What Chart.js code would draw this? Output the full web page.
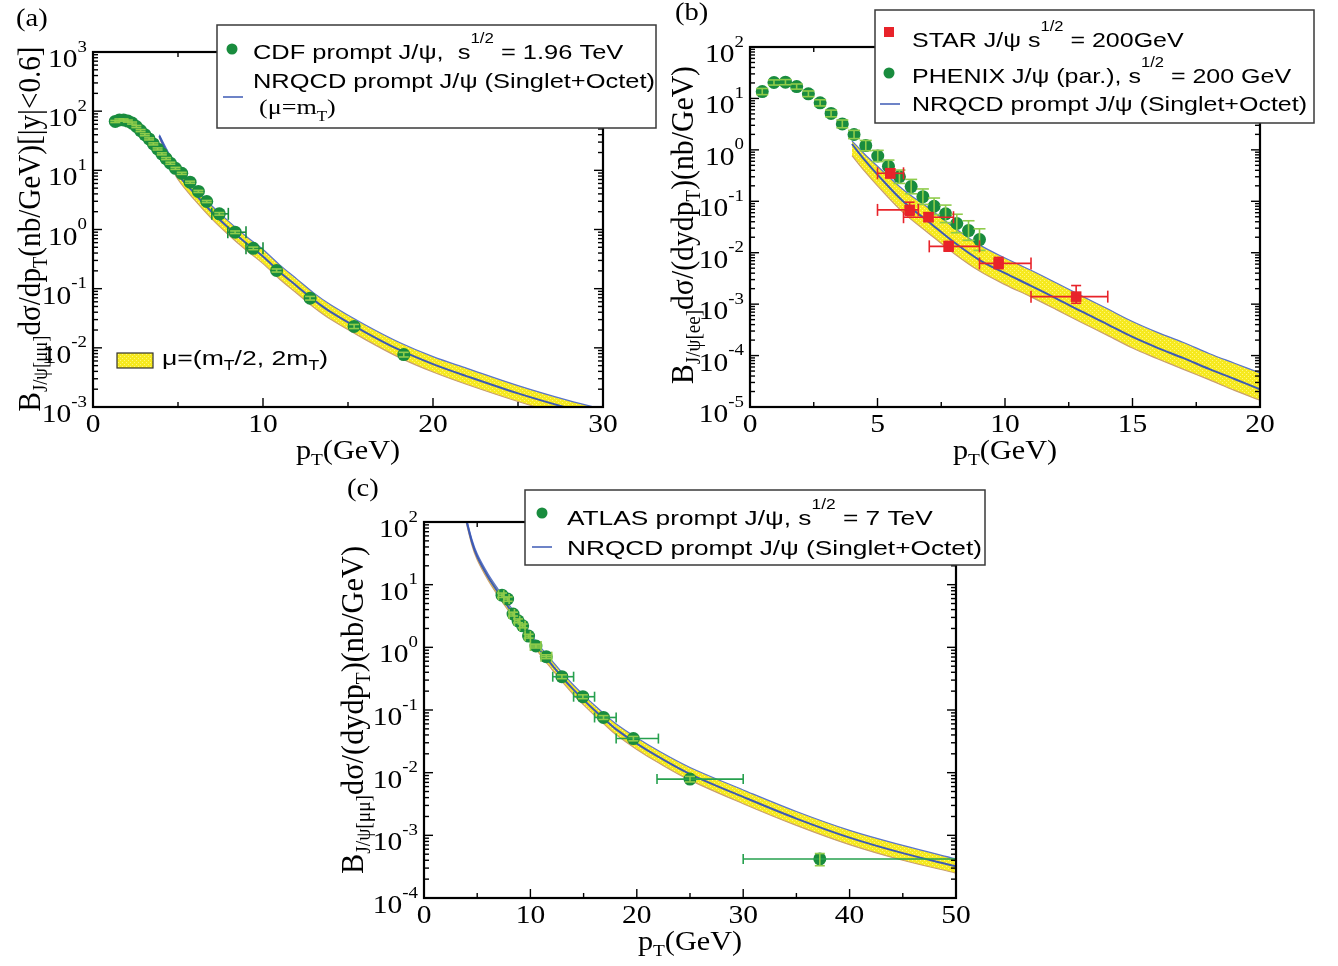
<!DOCTYPE html>
<html>
<head>
<meta charset="utf-8">
<script src="https://cdn.jsdelivr.net/npm/chart.js@4.4.0/dist/chart.umd.min.js"></script>
<style>
  body { margin: 0; background: #fff; width: 1338px; height: 966px; position: relative; overflow: hidden; }
  canvas { position: absolute; }
</style>
</head>
<body>
<canvas id="chartA" width="660" height="470" style="left:0px;top:0px"></canvas>
<canvas id="chartB" width="678" height="470" style="left:660px;top:0px"></canvas>
<canvas id="chartC" width="680" height="496" style="left:330px;top:470px"></canvas>
<script>
// ---------- (a) CDF prompt J/psi, 1.96 TeV ----------
const cdfPt  = [1.31, 1.55, 1.80, 2.05, 2.30, 2.55, 2.80, 3.05, 3.30, 3.55, 3.80, 4.05, 4.30, 4.55, 4.85,
                5.22, 5.71, 6.20, 6.69, 7.43, 8.36, 9.43, 10.8, 12.77, 15.36, 18.28];
const cdfVal = [67, 71, 71, 68, 63, 55, 47, 40, 34, 28, 23, 19, 15.8, 13.2, 10.8,
                8.9, 6.3, 4.4, 2.97, 1.84, 0.90, 0.48, 0.203, 0.069, 0.023, 0.0077];
const cdfErr = [0.04, 0.04, 0.04, 0.04, 0.04, 0.04, 0.04, 0.04, 0.04, 0.04, 0.04, 0.04, 0.04, 0.04, 0.04,
                0.04, 0.04, 0.04, 0.04, 0.05, 0.05, 0.05, 0.06, 0.07, 0.08, 0.09];
const cdfXLo = [null, null, null, null, null, null, null, null, null, null, null, null, null, null, null,
                null, null, null, null, 6.99, 7.93, 9.0, null, null, null, null];
const cdfXHi = [null, null, null, null, null, null, null, null, null, null, null, null, null, null, null,
                null, null, null, null, 7.96, 9.0, 10.0, null, null, null, null];

// NRQCD band for (a): upper edge, central (mu = mT), lower edge
const aThPt   = [3.9, 4.5, 5, 6, 7, 8, 9, 10, 11, 12, 13, 14, 16, 18, 20, 22, 25, 28, 30];
const aThHigh = [40, 18.5, 10.3, 5.0, 2.5, 1.36, 0.77, 0.46, 0.25, 0.145, 0.084, 0.053, 0.0245, 0.0124, 0.0071, 0.0045, 0.0023, 0.00128, 0.00092];
const aThMid  = [38, 16, 8.5, 4.0, 1.96, 1.05, 0.59, 0.35, 0.19, 0.11, 0.064, 0.040, 0.0185, 0.0093, 0.0053, 0.0033, 0.0017, 0.00095, 0.00068];
const aThLow  = [36, 13.8, 7.0, 3.1, 1.5, 0.80, 0.45, 0.265, 0.143, 0.083, 0.048, 0.030, 0.0139, 0.0069, 0.0039, 0.0024, 0.00124, 0.00069, 0.00049];

// ---------- (b) RHIC 200 GeV ----------
const phePt  = [0.48, 0.94, 1.39, 1.83, 2.29, 2.75, 3.18, 3.62, 4.08, 4.54, 5.01, 5.43, 5.86, 6.32, 6.78, 7.22, 7.67, 8.11, 8.57, 9.0];
const pheVal = [13.6, 20.4, 20.7, 17, 12.3, 8.2, 5.1, 3.2, 1.99, 1.21, 0.76, 0.48, 0.30, 0.193, 0.123, 0.080, 0.057, 0.037, 0.027, 0.018];
const pheErrDec = [0.06, 0.05, 0.05, 0.05, 0.055, 0.06, 0.065, 0.075, 0.08, 0.10, 0.11, 0.12, 0.13, 0.14, 0.15, 0.16, 0.17, 0.18, 0.19, 0.21];

const starPt  = [5.50, 6.26, 7.00, 7.79, 9.75, 12.79];
const starVal = [0.35, 0.068, 0.049, 0.0133, 0.0062, 0.0014];
const starXLo = [5.0, 5.0, 6.02, 7.03, 9.0, 11.02];
const starXHi = [6.02, 6.6, 7.98, 9.0, 11.02, 14.03];
const starYLo = [0.285, 0.053, 0.041, 0.0107, 0.0049, 0.00104];
const starYHi = [0.43, 0.096, 0.060, 0.0166, 0.0081, 0.0023];

const bThPt   = [4, 4.5, 5, 6, 7, 8, 9, 10, 11, 12, 13, 14, 15, 16, 17, 18, 19, 20];
const bThHigh = [1.5, 0.82, 0.48, 0.17, 0.074, 0.031, 0.0142, 0.0079, 0.0046, 0.0026, 1.45e-3, 8.2e-4, 4.6e-4, 2.8e-4, 1.8e-4, 1.1e-4, 7.1e-5, 4.6e-5];
const bThMid  = [1.3, 0.63, 0.33, 0.10, 0.040, 0.016, 0.0072, 0.0040, 0.0023, 0.0013, 7.2e-4, 4.1e-4, 2.3e-4, 1.4e-4, 8.9e-5, 5.5e-5, 3.5e-5, 2.2e-5];
const bThLow  = [0.77, 0.38, 0.20, 0.061, 0.024, 0.0097, 0.0044, 0.0024, 0.0014, 7.9e-4, 4.4e-4, 2.5e-4, 1.4e-4, 8.6e-5, 5.4e-5, 3.4e-5, 2.1e-5, 1.35e-5];

// ---------- (c) ATLAS 7 TeV ----------
const atlasPt  = [7.33, 7.86, 8.37, 8.84, 9.27, 9.83, 10.52, 11.49, 12.96, 14.93, 16.87, 19.68, 25.0, 37.2];
const atlasVal = [6.8, 5.9, 3.4, 2.65, 2.2, 1.51, 1.05, 0.71, 0.34, 0.163, 0.076, 0.035, 0.0079, 0.00042];
const atlasXLo = [7.0, 7.5, 8.0, 8.5, 9.0, 9.5, 10.0, 11.0, 12.1, 14.06, 16.03, 18.06, 21.9, 30.0];
const atlasXHi = [7.5, 8.0, 8.5, 9.0, 9.5, 10.0, 11.0, 12.0, 14.06, 16.03, 18.06, 22.03, 30.0, 70.0];
const atlasErr = [0.08, 0.08, 0.07, 0.07, 0.07, 0.07, 0.07, 0.07, 0.07, 0.07, 0.07, 0.08, 0.10, 0.22];

const cThPt   = [3.9, 4.5, 5, 6, 7, 8, 9, 10, 11, 12, 13, 14, 15, 16, 17, 18, 20, 22, 25, 30, 35, 40, 45, 50];
const cThHigh = [130, 53, 31, 15, 8.3, 4.75, 2.8, 1.66, 0.98, 0.62, 0.39, 0.255, 0.173, 0.12, 0.085, 0.061, 0.036, 0.0225, 0.0121, 0.0053, 0.0024, 1.2e-3, 6.9e-4, 4.2e-4];
const cThMid  = [120, 48, 28, 13.5, 7.4, 4.2, 2.45, 1.45, 0.85, 0.53, 0.33, 0.215, 0.145, 0.10, 0.07, 0.05, 0.029, 0.018, 0.0095, 0.0041, 0.00185, 9.2e-4, 5.2e-4, 3.2e-4];
const cThLow  = [110, 43, 25, 12, 6.5, 3.7, 2.12, 1.25, 0.73, 0.45, 0.28, 0.18, 0.121, 0.083, 0.058, 0.041, 0.0235, 0.0145, 0.0076, 0.0032, 0.00144, 7.1e-4, 4.0e-4, 2.5e-4];

// axis ticks
const aXTicks = [0, 10, 20, 30],        aXMinor = [5, 15, 25],            aYExp = [-3, -2, -1, 0, 1, 2, 3];
const bXTicks = [0, 5, 10, 15, 20],     bXMinor = [2.5, 7.5, 12.5, 17.5], bYExp = [-5, -4, -3, -2, -1, 0, 1, 2];
const cXTicks = [0, 10, 20, 30, 40, 50], cXMinor = [5, 15, 25, 35, 45],   cYExp = [-4, -3, -2, -1, 0, 1, 2];

const GREEN = '#198c3e';
const LIGHT = '#8fcc4b';
const MIDGREEN = '#26a04e';
const RED = '#e8232a';
const BLUE = '#3d5ab5';
const EDGE_BLUE = '#5a74cc';
const TAN = '#c99f70';
const SERIF = '"Liberation Serif", "Times New Roman", Times, serif';
const SANS = '"Liberation Sans", Arial, Helvetica, sans-serif';

// ---- rich text: plain strings, ['sup', s], ['sub', s] ----
function runs(segs) {
  return segs.map(s => typeof s === 'string' ? { k: 'n', t: s } : { k: s[0], t: s[1] });
}
function fontFor(k, st) {
  const sz = k === 'n' ? st.size : st.size * (st.small || 0.65);
  return sz.toFixed(1) + 'px ' + st.family;
}
function richWidth(ctx, segs, st) {
  let w = 0;
  for (const r of runs(segs)) { ctx.font = fontFor(r.k, st); w += ctx.measureText(r.t).width; }
  return w;
}
function drawRich(ctx, segs, x, y, st) {
  const w = richWidth(ctx, segs, st);
  const sx = st.width ? st.width / w : (st.sx || 1);
  ctx.save();
  ctx.translate(x, y);
  if (st.rotate) ctx.rotate(-Math.PI / 2);
  ctx.scale(sx, st.sy || 1);
  let cx = st.align === 'right' ? -w : st.align === 'center' ? -w / 2 : 0;
  ctx.textAlign = 'left';
  ctx.textBaseline = 'alphabetic';
  ctx.fillStyle = st.color || '#000';
  for (const r of runs(segs)) {
    ctx.font = fontFor(r.k, st);
    const dy = r.k === 'sup' ? -st.size * (st.raise || 0.6) : r.k === 'sub' ? st.size * (st.drop || 0.25) : 0;
    ctx.fillText(r.t, cx, dy);
    cx += ctx.measureText(r.t).width;
  }
  ctx.restore();
  return sx;
}

// yellow stippled band
function bandPattern() {
  const c = document.createElement('canvas');
  c.width = 4; c.height = 4;
  const g = c.getContext('2d');
  g.fillStyle = '#f6e91f'; g.fillRect(0, 0, 4, 4);
  g.fillStyle = '#fff77a'; g.fillRect(0, 0, 1, 1); g.fillRect(2, 2, 1, 1);
  return g.createPattern(c, 'repeat');
}
const BAND = bandPattern();

const TICK = { size: 25, family: SERIF, sx: 1.18, small: 0.64, raise: 0.62 };
const TITLE = { size: 27, family: SERIF, small: 0.64, drop: 0.22 };

// per-canvas decorations: frame ticks, labels, legend
const decor = {
  chartA: {
    xMajor: aXTicks, xMinor: aXMinor, yExp: aYExp,
    tag: ['(a)', 16, 26],
    xTitle: 52,
    yTitle: { segs: ['B', ['sub', 'J/ψ[μμ]'], 'dσ/dp', ['sub', 'T'], '(nb/GeV)[|y|<0.6]'], x: 40, y: 229, len: 365 },
    legend: {
      box: [217, 25, 656, 128], fitRow: 1, fitWidth: 402,
      rows: [
        { mark: 'circle', at: [232, 49], pos: [253, 59], text: ['CDF prompt J/ψ,  s', ['sup', '1/2'], ' = 1.96 TeV'] },
        { pos: [253, 88], text: ['NRQCD prompt J/ψ (Singlet+Octet)'] },
        { mark: 'line', at: [223, 97], pos: [259, 114], serif: true, text: ['(μ=m', ['sub', 'T'], ')'] }
      ]
    },
    bandKey: { box: [117, 353, 36, 15], pos: [162, 365], width: 166, text: ['μ=(m', ['sub', 'T'], '/2, 2m', ['sub', 'T'], ')'] }
  },
  chartB: {
    xMajor: bXTicks, xMinor: bXMinor, yExp: bYExp,
    tag: ['(b)', 15, 20],
    xTitle: 52,
    yTitle: { segs: ['B', ['sub', 'J/ψ[ee]'], 'dσ/(dydp', ['sub', 'T'], ')(nb/GeV)'], x: 33, y: 225, len: 318 },
    legend: {
      box: [215, 10, 654, 123], fitRow: 2, fitWidth: 395,
      rows: [
        { mark: 'rect', at: [229, 32], pos: [252, 47], text: ['STAR J/ψ s', ['sup', '1/2'], ' = 200GeV'] },
        { mark: 'circle', at: [229, 73], pos: [252, 83], text: ['PHENIX J/ψ (par.), s', ['sup', '1/2'], ' = 200 GeV'] },
        { mark: 'line', at: [220, 104], pos: [252, 111], text: ['NRQCD prompt J/ψ (Singlet+Octet)'] }
      ]
    }
  },
  chartC: {
    xMajor: cXTicks, xMinor: cXMinor, yExp: cYExp,
    tag: ['(c)', 17, 26],
    xTitle: 52,
    yTitle: { segs: ['B', ['sub', 'J/ψ[μμ]'], 'dσ/(dydp', ['sub', 'T'], ')(nb/GeV)'], x: 33, y: 240, len: 328 },
    legend: {
      box: [195, 20, 655, 95], fitRow: 1, fitWidth: 415,
      rows: [
        { mark: 'circle', at: [212, 43], pos: [237, 55], text: ['ATLAS prompt J/ψ, s', ['sup', '1/2'], ' = 7 TeV'] },
        { mark: 'line', at: [202, 77], pos: [237, 85], text: ['NRQCD prompt J/ψ (Singlet+Octet)'] }
      ]
    }
  }
};

const errorBars = {
  id: 'errorBars',
  afterDatasetDraw(chart, args) {
    const ds = chart.data.datasets[args.index];
    const eb = ds.errorBars;
    if (!eb) return;
    const ctx = chart.ctx, xs = chart.scales.x, ys = chart.scales.y, a = chart.chartArea;
    ctx.save();
    ctx.beginPath();
    ctx.rect(a.left, a.top, a.right - a.left, a.bottom - a.top);
    ctx.clip();
    ctx.lineWidth = 1.6;
    const seg = (x1, y1, x2, y2) => { ctx.beginPath(); ctx.moveTo(x1, y1); ctx.lineTo(x2, y2); ctx.stroke(); };
    ds.data.forEach((p, i) => {
      const px = xs.getPixelForValue(p.x), py = ys.getPixelForValue(p.y);
      if (eb.xLo && eb.xLo[i] != null) {
        ctx.strokeStyle = Array.isArray(eb.xColor) ? eb.xColor[i] : eb.xColor;
        const l = xs.getPixelForValue(eb.xLo[i]), r = xs.getPixelForValue(eb.xHi[i]);
        seg(l, py, r, py);
        seg(l, py - eb.xCap, l, py + eb.xCap);
        seg(r, py - eb.xCap, r, py + eb.xCap);
      }
      if (eb.yLo && eb.yLo[i] != null) {
        ctx.strokeStyle = eb.yColor;
        const t = ys.getPixelForValue(eb.yHi[i]), b = ys.getPixelForValue(eb.yLo[i]);
        seg(px, t, px, b);
        seg(px - eb.yCap, t, px + eb.yCap, t);
        seg(px - eb.yCap, b, px + eb.yCap, b);
      }
    });
    ctx.restore();
  }
};

const frame = {
  id: 'frame',
  afterDraw(chart) {
    const d = decor[chart.canvas.id];
    const ctx = chart.ctx, a = chart.chartArea, xs = chart.scales.x, ys = chart.scales.y;
    const seg = (x1, y1, x2, y2) => { ctx.beginPath(); ctx.moveTo(x1, y1); ctx.lineTo(x2, y2); ctx.stroke(); };
    ctx.save();
    ctx.strokeStyle = '#000';
    ctx.lineWidth = 1.4;
    d.xMajor.forEach(v => { const p = xs.getPixelForValue(v); seg(p, a.bottom, p, a.bottom - 9); seg(p, a.top, p, a.top + 9); });
    d.xMinor.forEach(v => { const p = xs.getPixelForValue(v); seg(p, a.bottom, p, a.bottom - 5); seg(p, a.top, p, a.top + 5); });
    const top = d.yExp[d.yExp.length - 1];
    d.yExp.forEach(e => {
      const p = ys.getPixelForValue(Math.pow(10, e));
      seg(a.left, p, a.left + 9, p); seg(a.right, p, a.right - 9, p);
      if (e === top) return;
      for (let k = 2; k <= 9; k++) {
        const q = ys.getPixelForValue(k * Math.pow(10, e));
        seg(a.left, q, a.left + 5, q); seg(a.right, q, a.right - 5, q);
      }
    });
    ctx.lineWidth = 2.2;
    ctx.strokeRect(a.left, a.top, a.right - a.left, a.bottom - a.top);

    // tick labels
    d.xMajor.forEach(v => drawRich(ctx, [String(v)], xs.getPixelForValue(v), a.bottom + 25, { ...TICK, align: 'center' }));
    d.yExp.forEach(e => drawRich(ctx, ['10', ['sup', String(e)]], a.left - 6, ys.getPixelForValue(Math.pow(10, e)) + 15, { ...TICK, align: 'right' }));

    // axis titles
    drawRich(ctx, ['p', ['sub', 'T'], '(GeV)'], (a.left + a.right) / 2, a.bottom + d.xTitle, { ...TITLE, sx: 1.12, align: 'center' });
    const yt = d.yTitle;
    drawRich(ctx, yt.segs, yt.x, yt.y, { ...TITLE, rotate: true, align: 'center', width: yt.len, sy: 1.2 });

    // panel tag
    drawRich(ctx, [d.tag[0]], d.tag[1], d.tag[2], { size: 26, family: SERIF, sx: 1.1 });

    // legend
    const L = d.legend;
    const [bx1, by1, bx2, by2] = L.box;
    ctx.fillStyle = '#fff';
    ctx.fillRect(bx1, by1, bx2 - bx1, by2 - by1);
    ctx.strokeStyle = '#3a3a3a';
    ctx.lineWidth = 1.5;
    ctx.strokeRect(bx1, by1, bx2 - bx1, by2 - by1);
    const LEG = { size: 21, family: SANS, small: 0.66, raise: 0.78, drop: 0.25 };
    const legSx = L.fitWidth / richWidth(ctx, L.rows[L.fitRow].text, LEG);
    L.rows.forEach(r => {
      if (r.mark === 'circle') {
        ctx.fillStyle = GREEN;
        ctx.beginPath(); ctx.arc(r.at[0], r.at[1], 5.5, 0, Math.PI * 2); ctx.fill();
      } else if (r.mark === 'rect') {
        ctx.fillStyle = RED;
        ctx.fillRect(r.at[0] - 5, r.at[1] - 5, 10, 10);
      } else if (r.mark === 'line') {
        ctx.strokeStyle = BLUE; ctx.lineWidth = 1.5;
        seg(r.at[0], r.at[1], r.at[0] + 20, r.at[1]);
      }
      const st = r.serif ? { size: 22, family: SERIF, small: 0.65, drop: 0.3, sx: legSx * 0.98 } : { ...LEG, sx: legSx };
      drawRich(ctx, r.text, r.pos[0], r.pos[1], st);
    });

    if (d.bandKey) {
      const k = d.bandKey;
      ctx.fillStyle = BAND;
      ctx.fillRect(k.box[0], k.box[1], k.box[2], k.box[3]);
      ctx.strokeStyle = '#333'; ctx.lineWidth = 1.2;
      ctx.strokeRect(k.box[0], k.box[1], k.box[2], k.box[3]);
      drawRich(ctx, k.text, k.pos[0], k.pos[1], { ...LEG, width: k.width });
    }
    ctx.restore();
  }
};

function xy(px, py) { return px.map((x, i) => ({ x, y: py[i] })); }

function bandSets(pt, hi, mid, lo) {
  const line = { showLine: true, pointRadius: 0, tension: 0.35, clip: 0 };
  return [
    { ...line, data: xy(pt, hi), borderColor: EDGE_BLUE, borderWidth: 1.2, fill: '+1', backgroundColor: BAND, order: 5 },
    { ...line, data: xy(pt, lo), borderColor: TAN, borderWidth: 1.2, fill: false, order: 4 },
    { ...line, data: xy(pt, mid), borderColor: BLUE, borderWidth: 2, fill: false, order: 3 }
  ];
}

function markers(px, py, style, color, radius, errs, order) {
  return {
    data: xy(px, py), showLine: false, fill: false,
    pointStyle: style, pointRadius: radius, pointBackgroundColor: color, pointBorderWidth: 0,
    errorBars: errs, order: order
  };
}

function panel(id, datasets, xMax, yMin, yMax, pad) {
  return new Chart(document.getElementById(id), {
    type: 'line',
    data: { datasets },
    options: {
      responsive: false, animation: false, devicePixelRatio: 1, events: [],
      layout: { padding: pad },
      plugins: { legend: { display: false }, tooltip: { enabled: false } },
      scales: {
        x: { type: 'linear', min: 0, max: xMax, display: false },
        y: { type: 'logarithmic', min: yMin, max: yMax, display: false }
      }
    },
    plugins: [errorBars, frame]
  });
}

// (a)
panel('chartA', [
  ...bandSets(aThPt, aThHigh, aThMid, aThLow),
  markers(cdfPt, cdfVal, 'circle', GREEN, 6.5, {
    xLo: cdfXLo, xHi: cdfXHi, xColor: GREEN, xCap: 6,
    yLo: cdfVal.map((v, i) => v * (1 - cdfErr[i])), yHi: cdfVal.map((v, i) => v * (1 + cdfErr[i])),
    yColor: LIGHT, yCap: 5
  }, 0)
], 30, 1e-3, 1e3, { left: 93, right: 57, top: 52, bottom: 63 });

// (b)
panel('chartB', [
  ...bandSets(bThPt, bThHigh, bThMid, bThLow),
  markers(phePt, pheVal, 'circle', GREEN, 6.5, {
    yLo: pheVal.map((v, i) => v / Math.pow(10, pheErrDec[i])), yHi: pheVal.map((v, i) => v * Math.pow(10, pheErrDec[i])),
    yColor: LIGHT, yCap: 6
  }, 1),
  markers(starPt, starVal, 'rect', RED, 7.5, {
    xLo: starXLo, xHi: starXHi, xColor: RED, xCap: 6,
    yLo: starYLo, yHi: starYHi, yColor: RED, yCap: 5
  }, 0)
], 20, 1e-5, 1e2, { left: 90, right: 78, top: 47, bottom: 63 });

// (c)
panel('chartC', [
  ...bandSets(cThPt, cThHigh, cThMid, cThLow),
  markers(atlasPt, atlasVal, 'circle', GREEN, 6.5, {
    xLo: atlasXLo, xHi: atlasXHi, xColor: atlasXHi.map((h, i) => h - atlasXLo[i] > 1.5 ? MIDGREEN : LIGHT), xCap: 5,
    yLo: atlasVal.map((v, i) => v * (1 - atlasErr[i])), yHi: atlasVal.map((v, i) => v * (1 + atlasErr[i])),
    yColor: LIGHT, yCap: 5
  }, 0)
], 50, 1e-4, 1e2, { left: 94, right: 54, top: 52, bottom: 68 });
</script>
</body>
</html>
